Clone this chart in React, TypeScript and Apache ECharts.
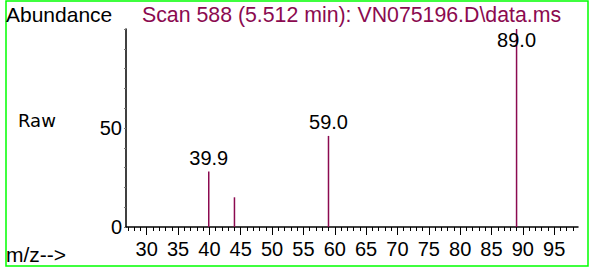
import React, { useEffect, useRef } from "react";
import * as echarts from "echarts";

const mzValues = [39.9, 44.0, 59.0, 89.0];
const abundanceValues = [28, 15, 46, 100];
const peakLabels = ["39.9", "", "59.0", "89.0"];
const xMajorTicks = [30, 35, 40, 45, 50, 55, 60, 65, 70, 75, 80, 85, 90, 95];
const xMinorTicks = [
  27, 28, 29, 30, 31, 32, 33, 34, 35, 36, 37, 38, 39, 40, 41, 42, 43, 44, 45, 46, 47, 48, 49, 50,
  51, 52, 53, 54, 55, 56, 57, 58, 59, 60, 61, 62, 63, 64, 65, 66, 67, 68, 69, 70, 71, 72, 73, 74,
  75, 76, 77, 78, 79, 80, 81, 82, 83, 84, 85, 86, 87, 88, 89, 90, 91, 92, 93, 94, 95, 96, 97, 98,
];
const yLabelValues = [0, 50];

const TITLE = "Scan 588 (5.512 min): VN075196.D\\data.ms";
const MAROON = "#8B0A50";
const ARIAL = "'Liberation Sans', Arial, sans-serif";

export default function App() {
  const ref = useRef<HTMLDivElement>(null);
  useEffect(() => {
    if (!ref.current) return;
    const chart = echarts.init(ref.current, null, { renderer: "svg" });
    const xMin = 26.7;
    const xMax = 98.8;
    const option: any = {
      animation: false,
      backgroundColor: "#fff",
      grid: { left: 126, right: 12, top: 29, bottom: 41, containLabel: false },
      xAxis: [
        {
          type: "value",
          min: xMin,
          max: xMax,
          axisLine: { show: true, lineStyle: { color: "#000", width: 1.5 } },
          axisTick: { show: true, customValues: xMinorTicks, length: 4, lineStyle: { color: "#000", width: 1 } },
          axisLabel: { show: false },
          splitLine: { show: false },
        },
        {
          type: "value",
          position: "bottom",
          min: xMin,
          max: xMax,
          axisLine: { show: false },
          axisTick: { show: true, customValues: xMajorTicks, length: 8, lineStyle: { color: "#000", width: 1 } },
          axisLabel: {
            show: true,
            customValues: xMajorTicks,
            fontSize: 20,
            fontFamily: ARIAL,
            color: "#000",
            margin: 12,
          },
          splitLine: { show: false },
        },
      ],
      yAxis: {
        type: "value",
        min: 0,
        max: 100,
        interval: 10,
        axisLine: { show: true, lineStyle: { color: "#000", width: 1.5 } },
        axisTick: { show: true, length: 2, lineStyle: { color: "#777", width: 1 } },
        axisLabel: {
          show: true,
          fontSize: 20,
          fontFamily: ARIAL,
          color: "#000",
          margin: 4,
          formatter: (v: number) => (yLabelValues.indexOf(v) >= 0 ? String(v) : ""),
        },
        splitLine: { show: false },
      },
      series: [
        {
          type: "custom",
          xAxisIndex: 0,
          yAxisIndex: 0,
          data: mzValues.map((m, i) => [m, abundanceValues[i], i]),
          encode: { x: 0, y: 1 },
          renderItem: (params: any, api: any) => {
            const x = api.value(0);
            const y = api.value(1);
            const idx = api.value(2);
            const p0 = api.coord([x, 0]);
            const p1 = api.coord([x, y]);
            const children: any[] = [
              {
                type: "line",
                shape: { x1: p0[0], y1: p0[1], x2: p1[0], y2: p1[1] },
                style: { stroke: MAROON, lineWidth: 1.5 },
              },
            ];
            const lbl = peakLabels[idx];
            if (lbl) {
              children.push({
                type: "text",
                style: {
                  text: lbl,
                  x: p1[0],
                  y: Math.max(p1[1] - 4, 50),
                  align: "center",
                  verticalAlign: "bottom",
                  fontSize: 20,
                  fontFamily: ARIAL,
                  fill: "#000",
                },
              });
            }
            return { type: "group", children };
          },
        },
      ],
      graphic: [
        {
          type: "rect",
          shape: { x: 6, y: 1, width: 582, height: 265 },
          style: { fill: "none", stroke: "#00FF00", lineWidth: 1.5 },
          silent: true,
        },
        {
          type: "text",
          x: 6,
          y: 14,
          style: { text: "Abundance", fontSize: 21, fontFamily: ARIAL, fill: "#000", verticalAlign: "middle" },
        },
        {
          type: "text",
          x: 142,
          y: 15,
          style: { text: TITLE, fontSize: 21.3, fontFamily: ARIAL, fill: MAROON, verticalAlign: "middle" },
        },
        {
          type: "text",
          x: 18,
          y: 120,
          style: { text: "Raw", fontSize: 18, fontFamily: "'DejaVu Sans', sans-serif", fill: "#000", verticalAlign: "middle" },
        },
        {
          type: "text",
          x: 6,
          y: 254,
          style: { text: "m/z-->", fontSize: 21, fontFamily: ARIAL, fill: "#000", verticalAlign: "middle" },
        },
      ],
    };
    chart.setOption(option);
    return () => chart.dispose();
  }, []);
  return (
    <div
      ref={ref}
      style={{ position: "fixed", left: 0, top: 0, width: 590, height: 268, background: "#fff" }}
    />
  );
}
